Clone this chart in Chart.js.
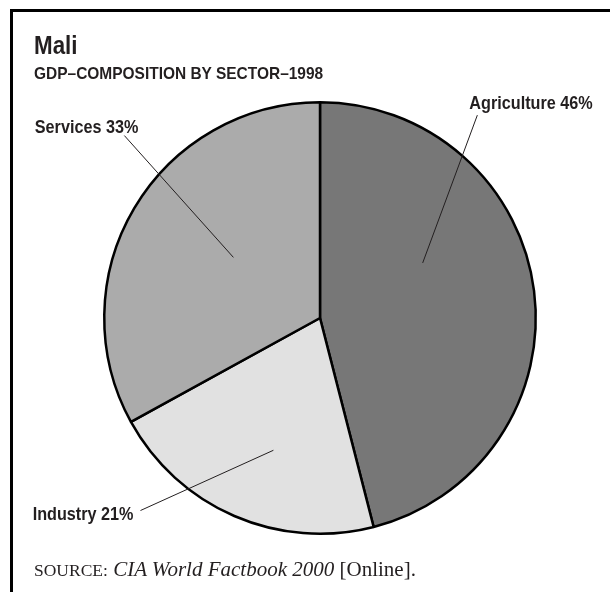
<!DOCTYPE html>
<html>
<head>
<meta charset="utf-8">
<script src="https://cdn.jsdelivr.net/npm/chart.js@4.4.0/dist/chart.umd.min.js"></script>
<style>
  html, body { margin: 0; padding: 0; background: #fff; }
  #wrap { position: relative; width: 610px; height: 592px; overflow: hidden; }
  #frame { position: absolute; left: 10px; top: 9px; width: 640px; height: 640px;
           border-top: 3px solid #000; border-left: 3px solid #000; }
  canvas { position: absolute; left: 0; top: 0; }
  .hd { position: absolute; left: 34px; white-space: nowrap; color: #231f20; transform-origin: 0 0;
        font-family: 'Liberation Sans Narrow', 'Liberation Sans', sans-serif; font-weight: bold; }
  #title { top: 32px; font-size: 26px; line-height: 26px; transform: scaleX(0.86); }
  #subtitle { top: 65px; font-size: 17px; line-height: 17px; transform: scaleX(0.91); }
  #source { position: absolute; left: 34px; top: 559px; font-size: 21px; line-height: 21px;
            font-family: 'Liberation Serif', 'DejaVu Serif', serif; color: #231f20; white-space: nowrap; }
  #source .sc { font-size: 17.5px; }
</style>
</head>
<body>
<div id="wrap">
  <div id="frame"></div>
  <canvas id="myChart" width="610" height="592"></canvas>
  <div class="hd" id="title">Mali</div>
  <div class="hd" id="subtitle">GDP–COMPOSITION BY SECTOR–1998</div>
  <div id="source"><span class="sc">SOURCE:</span> <i>CIA World Factbook 2000</i> [Online].</div>
</div>
<script>
document.addEventListener("DOMContentLoaded", function () {
  // data
  const sectors = ["Agriculture", "Industry", "Services"];
  const shares = [46, 21, 33];
  const fills = ["#777777", "#e1e1e1", "#ababab"];

  // leader line placement per slice: degrees off the slice middle, distance as share of radius
  const spots = [
    { inA: -21, inR: 0.54, outA: -45, outR: 1.19, dx: -8, dy: -6, align: "left" },
    { inA: -4, inR: 0.65, outA: 19.6, outR: 1.22, dx: -7, dy: 9, align: "right" },
    { inA: 4.4, inR: 0.49, outA: 12.4, outR: 1.24, dx: 14, dy: -3, align: "right" },
  ];

  const sliceLabels = {
    id: "sliceLabels",
    afterDatasetsDraw(chart) {
      const ctx = chart.ctx;
      const meta = chart.getDatasetMeta(0);
      meta.data.forEach(function (arc, i) {
        const p = spots[i];
        const g = arc.getProps(["x", "y", "startAngle", "endAngle", "outerRadius"], true);
        const mid = (g.startAngle + g.endAngle) / 2;
        const pt = function (deg, f) {
          const a = mid + deg * Math.PI / 180;
          return [g.x + Math.cos(a) * f * g.outerRadius, g.y + Math.sin(a) * f * g.outerRadius];
        };
        const a = pt(p.inA, p.inR);
        const b = pt(p.outA, p.outR);
        ctx.save();
        ctx.strokeStyle = "#231f20";
        ctx.lineWidth = 1;
        ctx.beginPath();
        ctx.moveTo(a[0], a[1]);
        ctx.lineTo(b[0], b[1]);
        ctx.stroke();
        ctx.fillStyle = "#231f20";
        ctx.font = "bold 18px 'Liberation Sans Narrow', 'Liberation Sans', sans-serif";
        ctx.textAlign = p.align;
        ctx.textBaseline = "alphabetic";
        ctx.translate(b[0] + p.dx, b[1] + p.dy);
        ctx.scale(0.9, 1); // narrow face stand-in
        ctx.fillText(sectors[i] + " " + shares[i] + "%", 0, 0);
        ctx.restore();
      });
    },
  };

  const ctx = document.getElementById("myChart").getContext("2d");
  new Chart(ctx, {
    type: "pie",
    data: {
      labels: sectors,
      datasets: [
        {
          data: shares,
          backgroundColor: fills,
          borderColor: "#000",
          borderWidth: 2.5,
          borderAlign: "center",
        },
      ],
    },
    options: {
      responsive: false,
      animation: false,
      layout: { padding: { left: 103, right: 73, top: 101, bottom: 57 } },
      plugins: {
        legend: { display: false },
        tooltip: { enabled: false },
      },
    },
    plugins: [sliceLabels],
  });
});
</script>
</body>
</html>
